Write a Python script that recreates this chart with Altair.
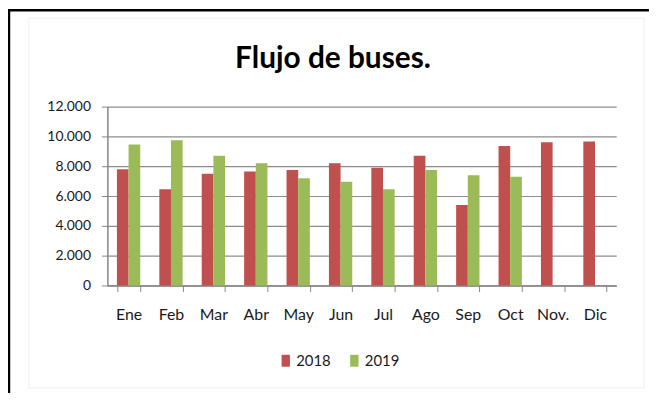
import altair as alt
import pandas as pd

months = ["Ene", "Feb", "Mar", "Abr", "May", "Jun", "Jul", "Ago", "Sep", "Oct", "Nov.", "Dic"]
years = ["2018", "2019"]
values_2018 = [7800, 6450, 7500, 7650, 7750, 8200, 7900, 8700, 5400, 9350, 9600, 9650]
values_2019 = [9450, 9750, 8700, 8200, 7200, 6950, 6450, 7750, 7400, 7300, None, None]
y_ticks = [0, 2000, 4000, 6000, 8000, 10000, 12000]
colors = ["#C0504D", "#9BBB59"]

rows = []
for m, a, b in zip(months, values_2018, values_2019):
    if a is not None:
        rows.append({"Mes": m, "Año": "2018", "Valor": a})
    if b is not None:
        rows.append({"Mes": m, "Año": "2019", "Valor": b})
df = pd.DataFrame(rows)

bars = alt.Chart(df).mark_bar().encode(
    x=alt.X(
        "Mes:N",
        sort=months,
        scale=alt.Scale(paddingInner=0.45, paddingOuter=0.225),
        axis=alt.Axis(
            title=None, labelAngle=0, tickBand="extent", tickSize=6,
            labelFont="Lato", labelFontSize=16, labelColor="#1a1a1a",
            labelPadding=15, domainColor="#868686", tickColor="#868686",
            domainWidth=1.5, grid=False,
        ),
    ),
    xOffset=alt.XOffset("Año:N", sort=years),
    y=alt.Y(
        "Valor:Q",
        scale=alt.Scale(domain=[0, 12000]),
        axis=alt.Axis(
            title=None, values=y_ticks,
            labelExpr="datum.value == 0 ? '0' : format(datum.value / 1000, 'd') + '.000'",
            labelFont="Lato", labelFontSize=14, labelColor="#1a1a1a",
            labelPadding=11, tickSize=6, tickColor="#868686",
            domainColor="#868686", domainWidth=1.5,
            grid=True, gridColor="#8c8c8c", gridWidth=1.2,
        ),
    ),
    color=alt.Color(
        "Año:N",
        scale=alt.Scale(domain=years, range=colors),
        legend=alt.Legend(
            title=None, orient="none", direction="horizontal",
            legendX=172, legendY=248, padding=0,
            symbolType="M-0.7,-1H0.7V1H-0.7Z", symbolSize=144,
            symbolStrokeWidth=0, labelFont="Lato", labelFontSize=15,
            labelColor="#1a1a1a", labelOffset=3, columnPadding=16,
        ),
    ),
)

frame = alt.Chart(alt.Data(values=[{"k": 1}])).mark_rect(
    fill="transparent", stroke="black", strokeWidth=2.5
).encode(
    x=alt.value(-99), x2=alt.value(700), y=alt.value(-97), y2=alt.value(400)
)

inner = alt.Chart(alt.Data(values=[{"k": 1}])).mark_rect(
    fill="transparent", stroke="#f0f0f0", strokeWidth=1
).encode(
    x=alt.value(-79), x2=alt.value(540), y=alt.value(-89), y2=alt.value(283)
)

chart = alt.layer(inner, frame, bars).properties(
    width=512,
    height=180,
    autosize=alt.AutoSizeParams(type="none"),
    padding={"left": 100, "top": 98, "right": 33, "bottom": 107},
    background="white",
    title=alt.TitleParams(
        "Flujo de buses.", font="Lato", fontSize=30, fontWeight="bold",
        color="black", anchor="middle", dx=-29, offset=-89.5,
        baseline="alphabetic",
    ),
).configure_view(stroke=None)

chart.save("out.html", embed_options={"renderer": "svg", "actions": False})
